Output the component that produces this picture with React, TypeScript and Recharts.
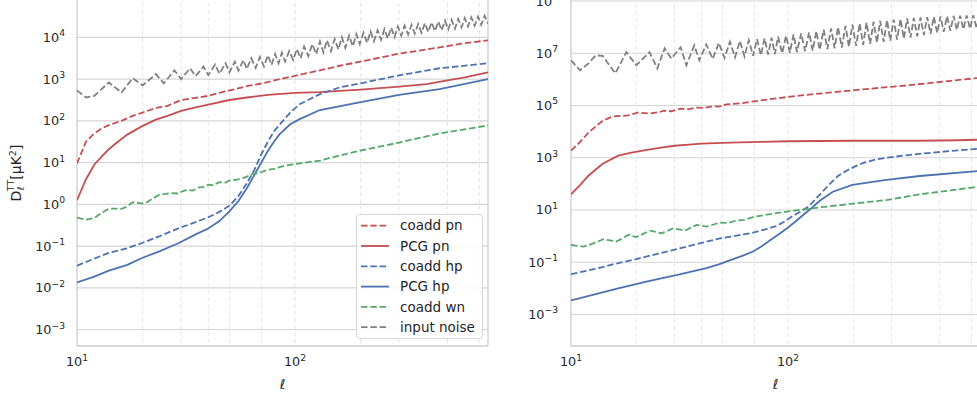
import React from 'react';
import { LineChart, Line, XAxis, YAxis, CartesianGrid, ReferenceLine } from 'recharts';

type Pt = [number, number];

const FONT = '"DejaVu Sans", sans-serif';
const TEXT = '#262626';

// axis ticks and grid positions
const ellTicks = [10, 100];
const ellMinor = [20, 30, 40, 50, 60, 70, 80, 90, 100, 200, 300, 400, 500, 600, 700];
const leftYTicks = [1e-3, 1e-2, 1e-1, 1, 10, 100, 1e3, 1e4];
const rightYTicks = [1e-3, 1e-1, 10, 1e3, 1e5, 1e7, 1e9];
const ellRange: [number, number] = [10, 767];
const leftYRange: [number, number] = [4.04e-4, 9.8e4];
const rightYRange: [number, number] = [6.2e-5, 2.64e9];

// ---- left panel (ell, D_ell) ----
const leftCoaddPn: Pt[] = [
  [10, 9.5], [11, 32], [12, 50], [13, 66], [14, 79], [15, 89], [16, 100], [18, 132], [20, 158],
  [23, 204], [26, 229], [30, 316], [35, 355], [40, 398], [45, 468], [52, 562], [60, 676], [71, 794],
  [85, 1000], [100, 1200], [130, 1620], [160, 2090], [200, 2630], [300, 4070], [460, 5750],
  [600, 7240], [767, 8510],
];
const leftPcgPn: Pt[] = [
  [10, 1.26], [11, 4.0], [12, 8.9], [13, 14.1], [14, 20.9], [15, 28.2], [17, 46.8], [20, 75.9],
  [23, 107], [26, 132], [30, 174], [35, 209], [40, 245], [50, 316], [60, 363], [75, 417], [100, 468],
  [130, 490], [160, 525], [200, 562], [300, 661], [400, 759], [500, 933], [600, 1100], [767, 1450],
];
const leftCoaddHp: Pt[] = [
  [10, 0.034], [12, 0.05], [14, 0.069], [17, 0.089], [20, 0.12], [24, 0.174], [29, 0.263],
  [34, 0.355], [40, 0.49], [45, 0.66], [50, 0.93], [55, 1.58], [60, 3.16], [65, 6.6], [70, 15.8],
  [75, 31.6], [80, 56], [88, 100], [95, 158], [105, 251], [130, 437], [160, 631], [200, 794],
  [300, 1230], [460, 1820], [767, 2400],
];
const leftPcgHp: Pt[] = [
  [10, 0.0135], [12, 0.0186], [14, 0.0257], [17, 0.0355], [20, 0.0525], [24, 0.0759], [29, 0.115],
  [35, 0.191], [40, 0.263], [45, 0.398], [50, 0.676], [55, 1.2], [60, 2.4], [65, 5.0], [70, 10],
  [75, 19], [80, 31.6], [85, 47.9], [95, 83], [105, 110], [130, 182], [200, 282], [300, 417],
  [460, 575], [767, 1000],
];
const leftCoaddWn: Pt[] = [
  [10, 0.48], [11, 0.43], [12, 0.47], [13, 0.63], [14, 0.79], [15, 0.79], [16, 0.78], [17, 0.89],
  [18, 1.12], [19.5, 1.07], [20.5, 1.05], [22, 1.32], [24, 1.74], [25.5, 1.78], [27, 1.86], [29, 1.82],
  [30, 2.0], [32, 2.24], [34, 2.14], [36, 2.51], [38, 2.63], [40, 2.95], [42, 2.88], [45, 3.39],
  [48, 3.31], [50, 3.72], [55, 3.98], [60, 4.57], [63, 5.25], [68, 5.62], [74, 6.61], [80, 7.08],
  [90, 8.51], [105, 9.55], [130, 11.2], [160, 14.8], [200, 19.5], [300, 30.2], [460, 50.1], [767, 77.6],
];
const leftInputNoise: Pt[] = [
  [10, 537], [11, 363], [12, 398], [14, 832], [16, 479], [18, 1050], [20, 708], [23, 1320], [25, 794],
  [28, 1620], [30, 1000], [33, 1820], [35, 1180], [38, 2000], [40, 1260], [43, 2240], [45, 1350],
  [48, 2400], [50, 1450], [53, 2630], [55, 1590], [58, 2880], [60, 1740], [63, 3160], [66, 1860],
  [69, 3390], [72, 2000], [75, 3720], [78, 2190], [81, 3980], [84, 2400], [87, 4270], [90, 2630],
  [94, 4680], [98, 2880], [102, 5250], [106, 3160], [110, 6030], [115, 3550], [120, 6920], [125, 3980],
  [130, 7940], [135, 4370], [140, 8510], [146, 4680], [152, 9120], [158, 5130], [164, 10000],
  [170, 5620], [177, 11000], [184, 6170], [191, 12000], [198, 6920], [206, 12900], [214, 7410],
  [222, 13800], [230, 8130], [239, 14800], [248, 8710], [257, 15800], [266, 9330], [276, 17000],
  [286, 10200], [296, 18200], [307, 11000], [318, 19100], [330, 11700], [342, 20000], [354, 12300],
  [367, 20900], [380, 12900], [394, 21900], [408, 13500], [423, 22900], [438, 14100], [454, 24000],
  [470, 14800], [487, 25100], [504, 15500], [522, 26300], [541, 16200], [560, 27500], [580, 17400],
  [600, 28800], [621, 18200], [643, 30200], [666, 19100], [690, 31600], [714, 20000], [740, 33100],
  [767, 21400],
];

// ---- right panel (ell, D_ell) ----
const rightCoaddPn: Pt[] = [
  [10, 1860], [11, 3980], [12, 8910], [13, 15800], [14, 26300], [15.6, 38000], [18.3, 41700],
  [20.3, 53700], [23, 49000], [25, 55000], [27, 63100], [29, 60300], [32, 75900], [35, 72400],
  [38, 83200], [41, 81300], [45, 93300], [48, 91200], [52, 110000], [60, 120000], [74, 155000],
  [90, 191000], [113, 240000], [150, 302000], [198, 380000], [260, 468000], [354, 589000],
  [500, 794000], [767, 1150000],
];
const rightPcgPn: Pt[] = [
  [10, 39.8], [11, 89], [12, 200], [13, 355], [14, 589], [16.5, 1200], [19, 1580], [22.4, 2000],
  [26, 2450], [30, 2880], [35, 3160], [40, 3470], [54, 3800], [75, 4070], [100, 4270], [200, 4470],
  [400, 4470], [600, 4680], [767, 4900],
];
const rightCoaddHp: Pt[] = [
  [10, 0.0347], [13, 0.0562], [16, 0.0871], [20, 0.132], [25, 0.209], [32, 0.347], [40, 0.55],
  [48, 0.794], [58, 1.05], [68, 1.32], [78, 1.78], [88, 2.4], [96, 3.55], [105, 5.89], [115, 8.91],
  [125, 14.1], [135, 28.2], [145, 52.5], [156, 100], [170, 200], [186, 316], [205, 479], [222, 631],
  [250, 832], [284, 1000], [340, 1200], [405, 1410], [550, 1780], [767, 2240],
];
const rightPcgHp: Pt[] = [
  [10, 0.00347], [13, 0.00603], [16.5, 0.01], [22, 0.0178], [32, 0.0347], [42, 0.0589], [48, 0.0832],
  [55, 0.126], [62, 0.178], [69, 0.257], [76, 0.417], [83, 0.708], [90, 1.12], [99, 2.0], [108, 3.55],
  [117, 6.31], [128, 11.7], [140, 22.4], [161, 50.1], [198, 91.2], [284, 141], [405, 200], [767, 316],
];
const rightCoaddWn: Pt[] = [
  [10, 0.457], [11.4, 0.398], [12.5, 0.501], [14.1, 0.759], [16.2, 0.617], [18.4, 1.12], [20, 0.912],
  [23.1, 1.62], [26.2, 1.29], [29.6, 2.0], [33.5, 1.62], [37.9, 2.69], [42.2, 2.29], [48.5, 3.31],
  [53, 3.16], [58, 3.98], [63, 4.17], [69, 5.37], [80, 6.61], [99, 8.71], [120, 10.7], [140, 12.6],
  [200, 17.4], [284, 24], [405, 39.8], [550, 55], [767, 79.4],
];
const rightInputNoise: Pt[] = [
  [10, 5.37e6], [11, 2.24e6], [12, 3.98e6], [13, 8.32e6], [14, 7.94e6], [16, 1.7e6], [18, 1.1e7],
  [20, 3.47e6], [23, 1.1e7], [25, 2.63e6], [27, 1.55e7], [29, 6.31e6], [32, 1.7e7], [34, 3.47e6],
  [37, 2.0e7], [39, 5.37e6], [42, 2.19e7], [45, 6.03e6], [48, 2.51e7], [51, 6.61e6], [54, 2.75e7],
  [57, 7.08e6], [60, 2.95e7], [63, 7.59e6], [66, 3.16e7], [69, 7.94e6], [72, 3.47e7], [75, 8.32e6],
  [78, 3.72e7], [81, 8.91e6], [84, 3.98e7], [87, 9.33e6], [90, 4.27e7], [94, 1.0e7], [98, 4.68e7],
  [102, 1.05e7], [106, 5.25e7], [110, 1.12e7], [115, 5.75e7], [120, 1.2e7], [125, 6.31e7],
  [130, 1.26e7], [135, 7.08e7], [140, 1.35e7], [146, 7.94e7], [152, 1.45e7], [158, 8.91e7],
  [164, 1.55e7], [170, 1.0e8], [177, 1.66e7], [184, 1.12e8], [191, 1.78e7], [198, 1.26e8],
  [206, 1.91e7], [214, 1.38e8], [222, 2.09e7], [230, 1.51e8], [239, 2.29e7], [248, 1.62e8],
  [257, 2.51e7], [266, 1.74e8], [276, 2.75e7], [286, 1.86e8], [296, 3.02e7], [307, 1.95e8],
  [318, 3.31e7], [330, 2.04e8], [342, 3.63e7], [354, 2.14e8], [367, 3.98e7], [380, 2.24e8],
  [394, 4.47e7], [408, 2.34e8], [423, 5.01e7], [438, 2.4e8], [454, 5.5e7], [470, 2.51e8],
  [487, 6.03e7], [504, 2.57e8], [522, 6.61e7], [541, 2.63e8], [560, 7.24e7], [580, 2.69e8],
  [600, 7.76e7], [621, 2.75e8], [643, 8.32e7], [666, 2.82e8], [690, 8.71e7], [714, 2.88e8],
  [740, 9.12e7], [767, 2.95e8],
];

const seriesStyle = [
  { name: 'coadd pn', color: '#C44E52', dashed: true },
  { name: 'PCG pn', color: '#C44E52', dashed: false },
  { name: 'coadd hp', color: '#4C72B0', dashed: true },
  { name: 'PCG hp', color: '#4C72B0', dashed: false },
  { name: 'coadd wn', color: '#55A868', dashed: true },
  { name: 'input noise', color: '#808080', dashed: true },
];

const leftSeries = [leftCoaddPn, leftPcgPn, leftCoaddHp, leftPcgHp, leftCoaddWn, leftInputNoise];
const rightSeries = [rightCoaddPn, rightPcgPn, rightCoaddHp, rightPcgHp, rightCoaddWn, rightInputNoise];

const toRows = (pts: Pt[]) => pts.map(([l, v]) => ({ l, v }));
const DASH = '6.5 2.8';
const LW = 1.8;

const expText = (v: number) => {
  const e = Math.round(Math.log10(v));
  return e < 0 ? `\u2212${-e}` : `${e}`;
};

function Panel({ series, yRange, yTicks, yAxisWidth, labelEnd, tickBase, left, top, height, rightMargin, showYLabel }: any) {
  const width = 500;
  return (
    <div style={{ position: 'absolute', left, top, width, height }}>
      <LineChart width={width} height={height} margin={{ top: 0, right: rightMargin, bottom: 20, left: 0 }}>
        <CartesianGrid horizontalValues={yTicks} vertical={false} stroke="#d5d5d5" strokeWidth={1.1} />
        <CartesianGrid verticalValues={ellMinor} horizontal={false} stroke="#e2e2e2" strokeWidth={0.9} strokeDasharray="4 3" />
        <XAxis
          dataKey="l"
          type="number"
          scale="log"
          domain={ellRange}
          allowDataOverflow
          ticks={ellTicks}
          axisLine={false}
          tickLine={false}
          height={30}
          tick={(p: any) => (
            <text x={p.x} y={tickBase} textAnchor="middle" fill={TEXT} fontSize={12.8} fontFamily={FONT}>
              10<tspan dy={-5.5} fontSize={9.2}>{expText(p.payload.value)}</tspan>
            </text>
          )}
          label={{
            content: (p: any) => {
              const vb = p.viewBox;
              return (
                <text x={vb.x + vb.width / 2} y={tickBase + 23} textAnchor="middle" fill={TEXT} fontSize={13.5} fontStyle="italic" fontFamily={FONT}>
                  ℓ
                </text>
              );
            },
          }}
        />
        <YAxis
          type="number"
          scale="log"
          domain={yRange}
          allowDataOverflow
          ticks={yTicks}
          width={yAxisWidth}
          axisLine={false}
          tickLine={false}
          tick={(p: any) => (
            <text x={labelEnd} y={p.y + 4.5} textAnchor="end" fill={TEXT} fontSize={12.8} fontFamily={FONT}>
              10<tspan dy={-5.5} fontSize={9.2}>{expText(p.payload.value)}</tspan>
            </text>
          )}
          label={
            showYLabel
              ? {
                  content: (p: any) => {
                    const vb = p.viewBox;
                    const cy = vb.y + vb.height / 2 + 2;
                    return (
                      <text x={21} y={cy} transform={`rotate(-90 21 ${cy})`} textAnchor="middle" fill={TEXT} fontSize={14} fontFamily={FONT}>
                        D<tspan fontSize={9.5} dy={3}>ℓ</tspan>
                        <tspan fontSize={9.5} dx={-4.5} dy={-10.5}>TT</tspan>
                        <tspan dy={7.5}>[μK</tspan>
                        <tspan fontSize={9.5} dy={-5.5}>2</tspan>
                        <tspan dy={5.5}>]</tspan>
                      </text>
                    );
                  },
                }
              : undefined
          }
        />
        <ReferenceLine x={ellRange[0]} stroke="#cccccc" strokeWidth={1.3} />
        <ReferenceLine x={ellRange[1]} stroke="#cccccc" strokeWidth={1.3} />
        <ReferenceLine y={yRange[0]} stroke="#cccccc" strokeWidth={1.3} />
        <ReferenceLine y={yRange[1]} stroke="#cccccc" strokeWidth={1.3} />
        {series.map((pts: Pt[], i: number) => (
          <Line
            key={seriesStyle[i].name}
            data={toRows(pts)}
            dataKey="v"
            name={seriesStyle[i].name}
            type="linear"
            stroke={seriesStyle[i].color}
            strokeWidth={LW}
            strokeDasharray={seriesStyle[i].dashed ? DASH : undefined}
            dot={false}
            activeDot={false}
            isAnimationActive={false}
          />
        ))}
      </LineChart>
    </div>
  );
}

function LegendBox() {
  return (
    <svg style={{ position: 'absolute', left: 356, top: 214 }} width={128} height={126}>
      <rect x={0.5} y={0.5} width={126} height={124} rx={3} fill="rgba(255,255,255,0.85)" stroke="#d6d6d6" />
      {seriesStyle.map((s, i) => {
        const cy = 11.7 + i * 20.3;
        return (
          <g key={s.name}>
            <line x1={5} x2={33} y1={cy} y2={cy} stroke={s.color} strokeWidth={LW} strokeDasharray={s.dashed ? DASH : undefined} />
            <text x={44} y={cy + 4.7} fill={TEXT} fontSize={13.5} fontFamily={FONT}>
              {s.name}
            </text>
          </g>
        );
      })}
    </svg>
  );
}

export default function App() {
  return (
    <div style={{ position: 'absolute', left: 0, top: 0, width: 977, height: 396, overflow: 'hidden', background: '#fff' }}>
      <Panel
        series={leftSeries}
        yRange={leftYRange}
        yTicks={leftYTicks}
        yAxisWidth={77}
        labelEnd={65}
        tickBase={370}
        left={0}
        top={-4}
        height={400}
        rightMargin={12}
        showYLabel
      />
      <Panel
        series={rightSeries}
        yRange={rightYRange}
        yTicks={rightYTicks}
        yAxisWidth={81}
        labelEnd={68}
        tickBase={376}
        left={490}
        top={-10}
        height={406}
        rightMargin={10}
        showYLabel={false}
      />
      <LegendBox />
    </div>
  );
}
